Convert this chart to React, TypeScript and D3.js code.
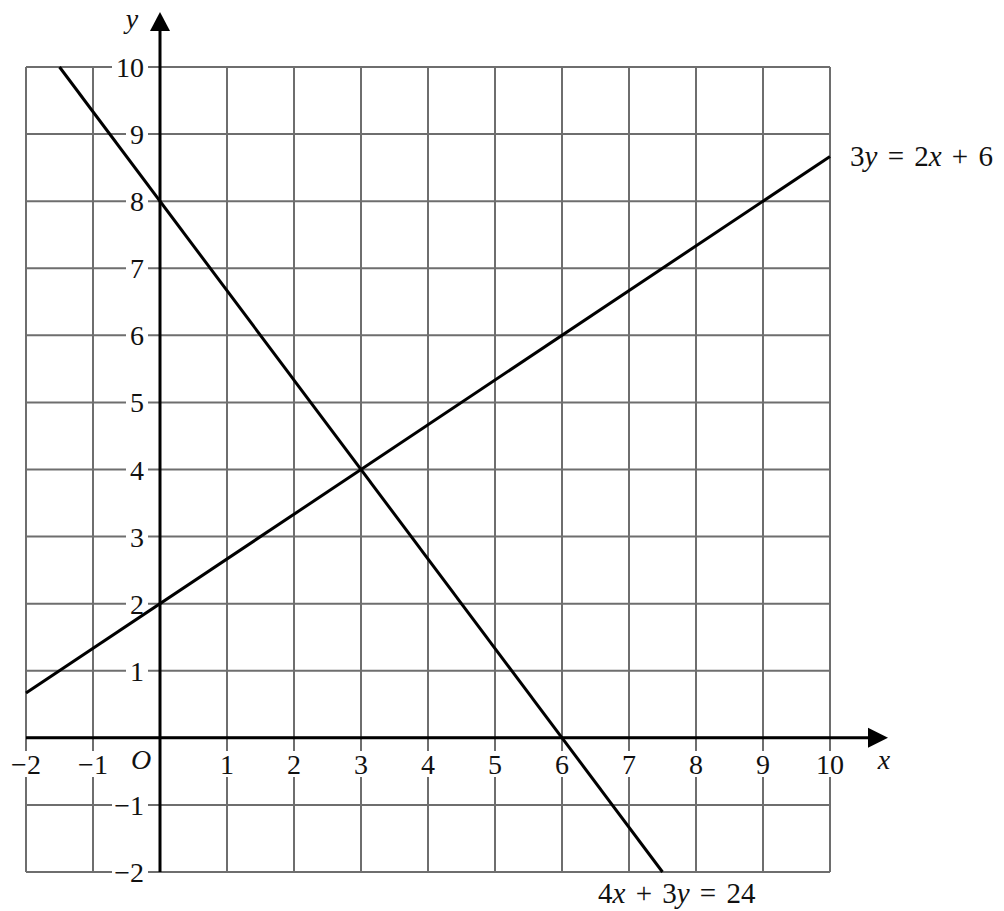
import { useEffect, useRef } from "react"
import * as d3 from "d3"

// grid ticks
const xTicks = [-2, -1, 1, 2, 3, 4, 5, 6, 7, 8, 9, 10]
const yTicks = [-2, -1, 1, 2, 3, 4, 5, 6, 7, 8, 9, 10]
const gridValues = [-2, -1, 0, 1, 2, 3, 4, 5, 6, 7, 8, 9, 10]

// line end points (clipped to the grid)
const lineA = [
  { x: -1.5, y: 10 },
  { x: 7.5, y: -2 },
] // 4x + 3y = 24
const lineB = [
  { x: -2, y: 2 / 3 },
  { x: 10, y: 26 / 3 },
] // 3y = 2x + 6

const W = 1004
const H = 911
const FONT = "'Liberation Serif', 'DejaVu Serif', serif"

export default function App() {
  const ref = useRef<SVGSVGElement | null>(null)

  useEffect(() => {
    document.body.style.margin = "0"
    if (!ref.current) return
    const svg = d3.select(ref.current)
    svg.selectAll("*").remove()

    const x = d3.scaleLinear().domain([-2, 10]).range([26, 830])
    const y = d3.scaleLinear().domain([-2, 10]).range([872, 67])

    svg.append("rect").attr("width", W).attr("height", H).attr("fill", "#fff")

    // grid
    const grid = svg.append("g").attr("stroke", "#6e6e6e").attr("stroke-width", 2)
    gridValues.forEach((v) => {
      grid.append("line").attr("x1", x(v)).attr("x2", x(v)).attr("y1", y(-2)).attr("y2", y(10))
      grid.append("line").attr("x1", x(-2)).attr("x2", x(10)).attr("y1", y(v)).attr("y2", y(v))
    })

    // tick labels with white backing
    const labels = svg.append("g").attr("font-family", FONT).attr("font-size", 28).attr("fill", "#111")
    xTicks.forEach((t) => {
      const txt = t < 0 ? `\u2212${-t}` : `${t}`
      const w = txt.length * 14 + 4
      labels.append("rect").attr("x", x(t) - w / 2).attr("y", 751).attr("width", w).attr("height", 26).attr("fill", "#fff")
      labels.append("text").attr("x", x(t)).attr("y", 774).attr("text-anchor", "middle").text(txt)
    })
    yTicks.forEach((t) => {
      const txt = t < 0 ? `\u2212${-t}` : `${t}`
      const w = txt.length * 14 + 8
      labels.append("rect").attr("x", 148 - w).attr("y", y(t) - 12).attr("width", w).attr("height", 24).attr("fill", "#fff")
      labels.append("text").attr("x", 144).attr("y", y(t) + 10).attr("text-anchor", "end").text(txt)
    })

    // axes
    const axes = svg.append("g").attr("stroke", "#000").attr("stroke-width", 3)
    axes.append("line").attr("x1", x(-2)).attr("x2", 872).attr("y1", y(0)).attr("y2", y(0))
    axes.append("line").attr("x1", x(0)).attr("x2", x(0)).attr("y1", y(-2)).attr("y2", 28)
    svg.append("path").attr("d", `M${888},${y(0)} L${868},${y(0) - 10} L${868},${y(0) + 10} Z`).attr("fill", "#000")
    svg.append("path").attr("d", `M${x(0)},12 L${x(0) - 10},31 L${x(0) + 10},31 Z`).attr("fill", "#000")

    // axis names
    const names = svg.append("g").attr("font-family", FONT).attr("font-size", 28).attr("font-style", "italic").attr("fill", "#111")
    names.append("text").attr("x", 141).attr("y", 769).attr("text-anchor", "middle").text("O")
    names.append("text").attr("x", 884).attr("y", 769).attr("text-anchor", "middle").text("x")
    names.append("text").attr("x", 132).attr("y", 28).attr("text-anchor", "middle").text("y")

    // lines
    const line = d3
      .line<{ x: number; y: number }>()
      .x((d) => x(d.x))
      .y((d) => y(d.y))
    ;[lineA, lineB].forEach((pts) => {
      svg.append("path").attr("d", line(pts)).attr("fill", "none").attr("stroke", "#000").attr("stroke-width", 3)
    })

    // equation labels
    const eq = (tx: number, ty: number, parts: [string, boolean][]) => {
      const t = svg
        .append("text")
        .attr("x", tx)
        .attr("y", ty)
        .attr("font-family", FONT)
        .attr("font-size", 29)
        .attr("word-spacing", 3)
        .attr("fill", "#111")
      parts.forEach(([s, it]) => t.append("tspan").attr("font-style", it ? "italic" : "normal").text(s))
    }
    eq(850, 166, [["3", false], ["y", true], [" = 2", false], ["x", true], [" + 6", false]])
    eq(598, 903, [["4", false], ["x", true], [" + 3", false], ["y", true], [" = 24", false]])
  }, [])

  return <svg ref={ref} width={W} height={H} style={{ display: "block" }} />
}
